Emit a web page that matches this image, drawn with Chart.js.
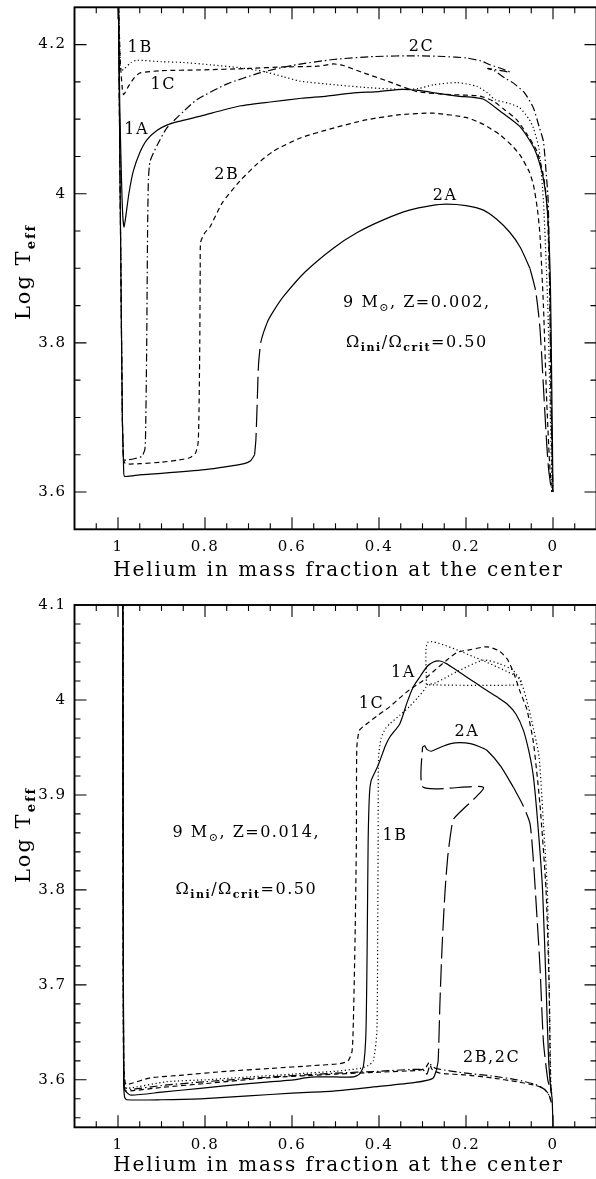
<!DOCTYPE html>
<html>
<head>
<meta charset="utf-8">
<script src="https://cdn.jsdelivr.net/npm/chart.js@4.4.1/dist/chart.umd.min.js"></script>
<style>
    html, body { margin: 0; padding: 0; background: #fff; overflow: hidden; }
    .panel { position: absolute; left: 0; width: 600px; }
    #panelLow { top: 0; height: 590px; }
    #panelHigh { top: 590px; height: 589px; }
</style>
</head>
<body>
<div class="panel" id="panelLow"><canvas id="chartLow" width="600" height="590"></canvas></div>
<div class="panel" id="panelHigh"><canvas id="chartHigh" width="600" height="589"></canvas></div>
<script>
// ==========================================
// TICKS
// ==========================================

const xTickValues = [1, 0.8, 0.6, 0.4, 0.2, 0];
const yTicksZ002 = [3.6, 3.8, 4, 4.2];
const yTicksZ014 = [3.6, 3.7, 3.8, 3.9, 4, 4.1];

// ==========================================
// TRACKS, Z = 0.002  ([Yc, log Teff])
// ==========================================

const z002_1A = [[0.999,4.26],[0.996,4.12],[0.992,4.02],[0.989,3.97],[0.986,3.955],[0.982,3.97],[0.975,4.0],
    [0.965,4.03],[0.95,4.055],[0.934,4.072],[0.91,4.085],[0.888,4.092],[0.86,4.097],[0.81,4.104],[0.76,4.112],
    [0.717,4.118],[0.65,4.123],[0.578,4.128],[0.52,4.131],[0.462,4.135],[0.40,4.137],[0.346,4.140],[0.30,4.138],
    [0.269,4.135],[0.22,4.131],[0.161,4.127],[0.12,4.11],[0.076,4.09],[0.05,4.068],[0.037,4.052],[0.022,4.02],
    [0.012,3.97],[0.006,3.88],[0.003,3.75],[0.0,3.6]];

const z002_1B = [[0.999,4.26],[0.996,4.2],[0.993,4.165],[0.985,4.168],[0.97,4.176],[0.957,4.179],[0.9,4.177],
    [0.85,4.176],[0.789,4.173],[0.72,4.169],[0.666,4.164],[0.62,4.157],[0.582,4.151],[0.5,4.146],[0.42,4.142],
    [0.352,4.140],[0.31,4.141],[0.275,4.146],[0.221,4.149],[0.175,4.144],[0.15,4.135],[0.133,4.126],[0.1,4.121],
    [0.076,4.115],[0.055,4.1],[0.045,4.088],[0.032,4.06],[0.022,3.99],[0.012,3.85],[0.006,3.7],[0.002,3.6]];

const z002_1C = [[0.999,4.26],[0.995,4.18],[0.99,4.14],[0.987,4.133],[0.975,4.145],[0.962,4.156],[0.949,4.162],
    [0.9,4.165],[0.811,4.166],[0.7,4.168],[0.62,4.170],[0.54,4.171],[0.505,4.174],[0.482,4.172],[0.44,4.163],
    [0.38,4.151],[0.313,4.137],[0.237,4.133],[0.168,4.131],[0.137,4.124],[0.11,4.112],[0.083,4.099],[0.06,4.08],
    [0.037,4.057],[0.024,4.03],[0.014,3.99],[0.008,3.88],[0.004,3.72],[0.001,3.6]];

const z002_2A_main = [[0.999,4.26],[0.995,4.0],[0.99,3.7],[0.987,3.63],[0.985,3.621],[0.95,3.623],[0.9,3.625],
    [0.8,3.63],[0.75,3.634],[0.71,3.638],[0.695,3.642],[0.686,3.65]];
const z002_2A_rise = [[0.686,3.65],[0.683,3.67],[0.68,3.72],[0.677,3.77],[0.672,3.80],[0.665,3.815]];
const z002_2A_loop = [[0.665,3.815],[0.655,3.83],[0.64,3.845],[0.62,3.862],[0.57,3.895],[0.505,3.927],[0.45,3.948],
    [0.39,3.965],[0.33,3.978],[0.28,3.984],[0.245,3.986],[0.2,3.984],[0.16,3.978],[0.13,3.966],[0.099,3.948],
    [0.075,3.928],[0.053,3.9]];
const z002_2A_end = [[0.053,3.9],[0.04,3.87],[0.03,3.82],[0.02,3.72],[0.014,3.66],[0.01,3.63],[0.003,3.6]];

const z002_2B = [[0.999,4.26],[0.995,4.0],[0.99,3.7],[0.987,3.645],[0.983,3.638],[0.95,3.638],[0.9,3.64],
    [0.86,3.643],[0.835,3.646],[0.822,3.652],[0.816,3.665],[0.814,3.7],[0.812,3.8],[0.811,3.9],[0.81,3.935],
    [0.8,3.948],[0.789,3.955],[0.76,3.988],[0.72,4.017],[0.68,4.04],[0.643,4.057],[0.58,4.075],[0.505,4.088],
    [0.43,4.099],[0.352,4.106],[0.275,4.108],[0.198,4.102],[0.16,4.093],[0.122,4.079],[0.095,4.065],[0.076,4.052],
    [0.055,4.03],[0.045,4.012],[0.036,3.98],[0.03,3.945],[0.022,3.85],[0.015,3.73],[0.008,3.64],[0.003,3.6]];

const z002_2C = [[0.999,4.26],[0.995,4.0],[0.99,3.7],[0.988,3.65],[0.985,3.643],[0.96,3.645],[0.945,3.648],
    [0.938,3.658],[0.936,3.7],[0.934,3.8],[0.932,3.95],[0.93,4.02],[0.926,4.044],[0.91,4.065],[0.888,4.088],
    [0.85,4.11],[0.819,4.126],[0.75,4.147],[0.674,4.162],[0.6,4.172],[0.505,4.18],[0.41,4.184],[0.313,4.185],
    [0.25,4.184],[0.198,4.182],[0.165,4.178],[0.145,4.173],[0.11,4.166],[0.099,4.163],[0.15,4.168],[0.135,4.165],
    [0.11,4.155],[0.09,4.148],[0.065,4.135],[0.045,4.115],[0.032,4.09],[0.022,4.07],[0.016,4.03],[0.011,3.99],
    [0.007,3.85],[0.004,3.7],[0.0,3.6]];

// ==========================================
// TRACKS, Z = 0.014
// ==========================================

const z014_1A = [[0.989,4.12],[0.988,3.8],[0.987,3.62],[0.985,3.59],[0.972,3.584],[0.9,3.587],[0.811,3.591],
    [0.7,3.596],[0.597,3.600],[0.57,3.602],[0.543,3.603],[0.5,3.603],[0.459,3.603],[0.445,3.606],[0.436,3.614],
    [0.43,3.65],[0.427,3.75],[0.425,3.85],[0.422,3.9],[0.418,3.915],[0.405,3.928],[0.398,3.936],[0.385,3.952],
    [0.375,3.961],[0.352,3.975],[0.335,3.998],[0.321,4.014],[0.305,4.025],[0.29,4.035],[0.275,4.04],[0.26,4.041],
    [0.244,4.038],[0.221,4.031],[0.198,4.024],[0.175,4.017],[0.152,4.01],[0.128,4.003],[0.106,3.996],[0.085,3.985],
    [0.068,3.968],[0.055,3.945],[0.045,3.919],[0.035,3.87],[0.024,3.8],[0.016,3.7],[0.01,3.62],[0.005,3.59],
    [0.002,3.58],[0.0,3.55]];

const z014_1B = [[0.989,4.12],[0.988,3.8],[0.987,3.62],[0.984,3.595],[0.98,3.591],[0.888,3.598],[0.8,3.6],
    [0.735,3.602],[0.6,3.606],[0.5,3.609],[0.444,3.612],[0.425,3.615],[0.413,3.62],[0.405,3.65],[0.403,3.75],
    [0.402,3.85],[0.401,3.94],[0.395,3.96],[0.385,3.97],[0.375,3.975],[0.352,3.984],[0.33,3.993],[0.31,4.003],
    [0.292,4.014],[0.287,4.061],[0.18,4.045],[0.076,4.023],[0.074,4.016],[0.29,4.016],[0.27,4.018],[0.22,4.03],
    [0.16,4.042],[0.122,4.038],[0.091,4.031],[0.072,4.017],[0.06,3.999],[0.045,3.97],[0.032,3.94],[0.022,3.87],
    [0.013,3.8],[0.008,3.68],[0.005,3.6],[0.003,3.585]];

const z014_1C = [[0.989,4.12],[0.988,3.8],[0.987,3.62],[0.984,3.598],[0.98,3.595],[0.926,3.602],[0.85,3.605],
    [0.75,3.609],[0.65,3.612],[0.55,3.615],[0.49,3.617],[0.471,3.62],[0.462,3.63],[0.459,3.66],[0.455,3.75],
    [0.452,3.85],[0.451,3.95],[0.445,3.968],[0.428,3.975],[0.405,3.983],[0.375,3.993],[0.35,4.003],[0.329,4.011],
    [0.30,4.02],[0.275,4.03],[0.244,4.042],[0.221,4.05],[0.19,4.053],[0.152,4.056],[0.125,4.052],[0.105,4.043],
    [0.09,4.028],[0.075,4.008],[0.06,3.99],[0.045,3.955],[0.03,3.89],[0.016,3.8],[0.009,3.7],[0.006,3.6],
    [0.004,3.588]];

const z014_2A_main = [[0.989,4.12],[0.988,3.8],[0.987,3.6],[0.985,3.582],[0.98,3.579],[0.9,3.579],[0.811,3.58],
    [0.7,3.583],[0.6,3.586],[0.505,3.588],[0.4,3.593],[0.32,3.597],[0.285,3.6],[0.275,3.602],[0.268,3.61]];
const z014_2A_rise = [[0.268,3.61],[0.264,3.62],[0.26,3.68],[0.255,3.74],[0.248,3.8],[0.242,3.835],[0.235,3.86],
    [0.228,3.875],[0.16,3.908],[0.298,3.908],[0.3,3.95],[0.295,3.952]];
const z014_2A_loop = [[0.295,3.952],[0.29,3.948],[0.28,3.946],[0.26,3.95],[0.235,3.954],[0.214,3.955],[0.19,3.954],
    [0.17,3.951],[0.152,3.947],[0.12,3.93],[0.091,3.908]];
const z014_2A_end = [[0.091,3.908],[0.07,3.89],[0.053,3.87],[0.045,3.83],[0.038,3.78],[0.03,3.72],[0.022,3.64],
    [0.012,3.6],[0.006,3.59],[0.003,3.585]];

const z014_2B = [[0.989,4.12],[0.988,3.8],[0.987,3.6],[0.985,3.59],[0.98,3.588],[0.9,3.592],[0.8,3.596],
    [0.658,3.602],[0.5,3.606],[0.4,3.608],[0.31,3.61],[0.294,3.612],[0.285,3.618],[0.278,3.611],[0.26,3.607],
    [0.198,3.605],[0.14,3.602],[0.083,3.598],[0.04,3.594],[0.022,3.591],[0.01,3.585],[0.005,3.578]];

const z014_2C = [[0.989,4.12],[0.988,3.8],[0.987,3.6],[0.985,3.592],[0.97,3.59],[0.9,3.594],[0.8,3.598],
    [0.65,3.603],[0.5,3.607],[0.4,3.609],[0.3,3.611],[0.29,3.606],[0.282,3.616],[0.27,3.612],[0.2,3.607],
    [0.14,3.604],[0.083,3.6],[0.04,3.595],[0.02,3.59],[0.008,3.583],[0.004,3.576]];

// ==========================================
// STYLE
// ==========================================

const DASH = {
    solid: [],
    dot: [1.2, 2.6],
    dash: [5, 3.5],
    dashdot: [8, 3, 1.5, 3],
    long: [22, 6]
};

const FONT = '"DejaVu Serif", serif';

Chart.defaults.font.family = FONT;
Chart.defaults.color = '#000';

function fontStr(size, bold) {
    return (bold ? 'bold ' : '') + size + 'px ' + FONT;
}

// text made of runs with their own size / baseline shift
function drawRich(ctx, parts, cx, baseY) {
    let total = 0;
    parts.forEach(p => {
        ctx.font = fontStr(p.size, p.bold);
        p.w = ctx.measureText(p.text).width;
        total += p.w;
    });
    let x = cx - total / 2;
    parts.forEach(p => {
        ctx.font = fontStr(p.size, p.bold);
        ctx.fillText(p.text, x, baseY + (p.dy || 0));
        x += p.w;
    });
}

function massLine(z) {
    return [
        { text: '9 M', size: 16 },
        { text: '\u2299', size: 11, dy: 4 },
        { text: ', Z=' + z + ',', size: 16 }
    ];
}

const omegaLine = [
    { text: '\u03A9', size: 16 },
    { text: 'ini', size: 11, bold: true, dy: 4 },
    { text: '/\u03A9', size: 16 },
    { text: 'crit', size: 11, bold: true, dy: 4 },
    { text: '=0.50', size: 16 }
];

const yTitle = [
    { text: 'Log T', size: 21 },
    { text: 'eff', size: 13, bold: true, dy: 5 }
];

// frame, inward ticks on four sides, labels and axis titles
function panelDecor(p) {
    return {
        id: 'panelDecor',
        beforeDraw(chart) {
            chart.ctx.letterSpacing = '1.5px';
        },
        afterDraw(chart) {
            const { ctx, chartArea: a } = chart;
            const xs = chart.scales.x;
            const ys = chart.scales.y;

            ctx.save();
            ctx.strokeStyle = '#000';
            ctx.fillStyle = '#000';

            ctx.lineWidth = 1.1;
            ctx.beginPath();
            for (let k = -1; k <= 21; k++) {
                const px = xs.getPixelForValue(k * 0.05);
                const len = k % 4 === 0 ? 12 : 6;
                ctx.moveTo(px, a.bottom); ctx.lineTo(px, a.bottom - len);
                ctx.moveTo(px, a.top); ctx.lineTo(px, a.top + len);
            }
            const m0 = Math.ceil(p.yMin / p.yMinor + 1e-6);
            const m1 = Math.floor(p.yMax / p.yMinor - 1e-6);
            const per = Math.round(p.yMajor / p.yMinor);
            for (let m = m0; m <= m1; m++) {
                const py = ys.getPixelForValue(m * p.yMinor);
                const len = m % per === 0 ? 12 : 6;
                ctx.moveTo(a.left, py); ctx.lineTo(a.left + len, py);
                ctx.moveTo(a.right, py); ctx.lineTo(a.right - len, py);
            }
            ctx.stroke();

            ctx.lineWidth = 1.9;
            ctx.strokeRect(a.left, a.top, a.right - a.left, a.bottom - a.top);

            ctx.letterSpacing = '1.6px';
            ctx.textBaseline = 'alphabetic';
            ctx.textAlign = 'center';
            ctx.font = fontStr(16);
            p.labels.forEach(l => {
                ctx.fillText(l.text, xs.getPixelForValue(l.x), ys.getPixelForValue(l.y) + 6);
            });

            ctx.letterSpacing = '1.5px';
            ctx.textAlign = 'left';
            drawRich(ctx, massLine(p.metal), xs.getPixelForValue(p.noteX), ys.getPixelForValue(p.noteY1) + 5.5);
            drawRich(ctx, omegaLine, xs.getPixelForValue(p.noteX), ys.getPixelForValue(p.noteY2) + 5.5);

            // x title
            ctx.letterSpacing = '1.9px';
            ctx.textAlign = 'center';
            ctx.textBaseline = 'middle';
            ctx.font = fontStr(20);
            ctx.fillText('Helium in mass fraction at the center', (a.left + a.right) / 2 + 3, a.bottom + p.xTitleOffset);

            // y title
            ctx.letterSpacing = '2px';
            ctx.textAlign = 'left';
            ctx.textBaseline = 'alphabetic';
            ctx.translate(22, p.yTitleY);
            ctx.rotate(-Math.PI / 2);
            drawRich(ctx, yTitle, 0, 8);
            ctx.restore();
        }
    };
}

function makePanel(canvas, p) {
    const datasets = p.tracks.map(t => ({
        data: t.pts.map(q => ({ x: q[0], y: q[1] })),
        showLine: true,
        borderColor: '#000',
        borderWidth: 1.2,
        borderDash: DASH[t.style],
        pointRadius: 0,
        tension: 0.2,
        fill: false
    }));

    return new Chart(canvas, {
        type: 'scatter',
        data: { datasets },
        options: {
            responsive: false,
            animation: false,
            devicePixelRatio: 1,
            events: [],
            layout: { padding: { top: p.padTop, right: 3.5, left: 0, bottom: 0 } },
            plugins: {
                legend: { display: false },
                tooltip: { enabled: false }
            },
            scales: {
                x: {
                    type: 'linear',
                    reverse: true,
                    min: -0.1,
                    max: 1.1,
                    grid: { display: false, drawTicks: false },
                    border: { display: false },
                    ticks: {
                        padding: 9,
                        font: { size: 15 },
                        callback: v => String(v)
                    },
                    afterBuildTicks: s => { s.ticks = xTickValues.map(v => ({ value: v })); },
                    afterFit: s => {
                        s.height = p.xAxisHeight;
                        s.paddingLeft = 0;
                        s.paddingRight = 0;
                    }
                },
                y: {
                    type: 'linear',
                    min: p.yMin,
                    max: p.yMax,
                    grid: { display: false, drawTicks: false },
                    border: { display: false },
                    ticks: {
                        padding: 8,
                        font: { size: 15 },
                        callback: v => String(v)
                    },
                    afterBuildTicks: s => { s.ticks = p.yTicks.map(v => ({ value: v })); },
                    afterFit: s => {
                        s.width = 74.5;
                        s.paddingTop = 0;
                        s.paddingBottom = 0;
                    }
                }
            }
        },
        plugins: [panelDecor(p)]
    });
}

// ==========================================
// PANELS
// ==========================================

makePanel(document.getElementById('chartLow'), {
    yMin: 3.55, yMax: 4.25, yMinor: 0.05, yMajor: 0.2, yTicks: yTicksZ002,
    padTop: 7.3, xAxisHeight: 60.7, xTitleOffset: 41.5, yTitleY: 272,
    metal: '0.002', noteX: 0.313, noteY1: 3.856, noteY2: 3.802,
    tracks: [
        { pts: z002_1A, style: 'solid' },
        { pts: z002_1B, style: 'dot' },
        { pts: z002_1C, style: 'dash' },
        { pts: z002_2A_main, style: 'solid' },
        { pts: z002_2A_rise, style: 'long' },
        { pts: z002_2A_loop, style: 'solid' },
        { pts: z002_2A_end, style: 'long' },
        { pts: z002_2B, style: 'dash' },
        { pts: z002_2C, style: 'dashdot' }
    ],
    labels: [
        { text: '1B', x: 0.949, y: 4.198 },
        { text: '1C', x: 0.896, y: 4.149 },
        { text: '1A', x: 0.957, y: 4.088 },
        { text: '2B', x: 0.75, y: 4.028 },
        { text: '2C', x: 0.302, y: 4.2 },
        { text: '2A', x: 0.248, y: 3.999 }
    ]
});

makePanel(document.getElementById('chartHigh'), {
    yMin: 3.55, yMax: 4.1, yMinor: 0.02, yMajor: 0.1, yTicks: yTicksZ014,
    padTop: 15, xAxisHeight: 51.7, xTitleOffset: 38, yTitleY: 245,
    metal: '0.014', noteX: 0.705, noteY1: 3.862, noteY2: 3.801,
    tracks: [
        { pts: z014_2B, style: 'dash' },
        { pts: z014_2C, style: 'dashdot' },
        { pts: z014_1A, style: 'solid' },
        { pts: z014_1B, style: 'dot' },
        { pts: z014_1C, style: 'dash' },
        { pts: z014_2A_main, style: 'solid' },
        { pts: z014_2A_rise, style: 'long' },
        { pts: z014_2A_loop, style: 'solid' },
        { pts: z014_2A_end, style: 'long' }
    ],
    labels: [
        { text: '1A', x: 0.344, y: 4.03 },
        { text: '1C', x: 0.417, y: 3.998 },
        { text: '1B', x: 0.363, y: 3.859 },
        { text: '2A', x: 0.198, y: 3.968 },
        { text: '2B,2C', x: 0.141, y: 3.625 }
    ]
});
</script>
</body>
</html>
